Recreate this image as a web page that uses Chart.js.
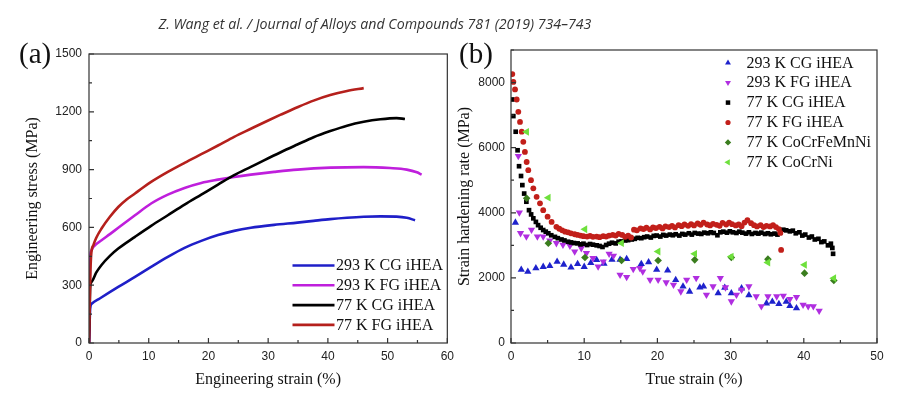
<!DOCTYPE html>
<html><head><meta charset="utf-8">
<script src="https://cdn.jsdelivr.net/npm/chart.js@4.4.1/dist/chart.umd.min.js"></script>
<style>
html,body{margin:0;padding:0;background:#fff;}
#wrap{position:relative;width:900px;height:404px;overflow:hidden;background:#fff;}
canvas{position:absolute;top:0;}
#cA{left:0;} #cB{left:455px;}
.hdr{position:absolute;left:0;width:750px;text-align:center;top:14px;font-style:italic;font-size:14.2px;font-family:"Open Sans",sans-serif;color:#333;white-space:nowrap;}
.pl{position:absolute;font-family:"Liberation Serif",serif;font-size:29px;line-height:29px;color:#111;}
</style></head><body>
<div id="wrap">
<canvas id="cA" width="460" height="404"></canvas>
<canvas id="cB" width="445" height="404"></canvas>
<div class="hdr">Z. Wang et al. / Journal of Alloys and Compounds 781 (2019) 734–743</div>
<div class="pl" style="left:19px;top:39px">(a)</div>
<div class="pl" style="left:459px;top:39px">(b)</div>
</div>
<script>
// ---------- Panel (a): engineering stress-strain ----------
const labelsA = ['293 K CG iHEA','293 K FG iHEA','77 K CG iHEA','77 K FG iHEA'];
const strainA_293CG = [0,0.1,0.2,0.5,1.8,4.9,7.7,10.4,13.2,16,18.8,21.6,24.3,27.1,31,34.9,37.6,40.4,43.2,46,48.8,51.5,53.2,54.6];
const stressA_293CG = [0,100,180,205,231,291,343,395,447,494,530,560,582,598,613,625,634,643,650,655,657,656,650,637];
const strainA_293FG = [0,0.1,0.17,0.4,0.72,2.1,3.5,4.9,7.7,10.4,13.2,16,18.8,21.6,24.3,27.1,31,34.9,40.4,46,50.4,53.2,54.9,55.7];
const stressA_293FG = [0,200,438,480,499,533,565,598,663,724,770,805,831,848,862,874,888,900,910,913,908,900,886,874];
const strainA_77CG = [0,0.08,0.2,0.5,1.2,2.1,3.5,4.9,7.7,10.4,13.2,16,18.8,21.6,24.3,27.1,29.3,32.1,34.9,37.6,40.4,43.2,46,48.8,51.5,52.9];
const stressA_77CG = [0,120,290,320,365,405,452,490,551,608,663,718,770,822,871,914,948,990,1030,1068,1100,1128,1148,1161,1167,1163];
const strainA_77FG = [0,0.12,0.25,0.4,0.72,1.2,2.1,3.5,4.9,6.3,7.7,9,10.4,13.2,16,18.8,21.6,24.3,27.1,30,32.1,35,37.6,40.4,43.2,46];
const stressA_77FG = [0,200,380,470,507,545,594,655,706,745,776,806,836,888,935,980,1025,1070,1112,1155,1185,1225,1258,1287,1308,1323];
const xTicksA = {min:0,max:60,step:5,labelEvery:10};
const yTicksA = {min:0,max:1500,step:150,labelEvery:300};

// ---------- Panel (b): strain hardening rate ----------
const labelsB = ['293 K CG iHEA','293 K FG iHEA','77 K CG iHEA','77 K FG iHEA','77 K CoCrFeMnNi','77 K CoCrNi'];
const strainB_293CG = [0.6,1.4,2.3,3.4,4.4,5.3,6.3,7.2,8.2,9.1,10.0,10.9,11.7,12.7,13.8,14.9,15.8,17.8,18.8,19.9,21.4,22.5,23.5,24.4,25.8,26.3,28.3,29.2,30.1,31.5,32.5,34.9,35.7,36.6,37.6,38.1,39.0];
const rateB_293CG = [3700,2250,2190,2300,2340,2370,2500,2410,2320,2430,2340,2460,2550,2440,2560,2560,2580,2430,2480,2250,2230,1940,1740,1580,1710,1740,1530,1700,1530,1680,1470,1220,1270,1200,1270,1140,1070];
const strainB_293FG = [1.0,1.14,1.3,2.1,2.8,3.6,4.4,5.3,6.2,7.1,8.05,8.7,9.6,10.3,11.2,11.9,12.6,13.4,14,14.9,15.8,16.7,17.6,18,19,20.1,21.2,22.2,23.2,24,25.3,26.7,27.6,28.6,29.3,30.1,30.8,31.5,32.5,33.5,34.2,35.1,36.3,37.2,38.1,39,39.9,40.6,41.3,42.1];
const rateB_293FG = [5742,4005,3372,3269,3474,3269,3269,3147,3065,3014,2983,2810,2912,2759,2605,2350,2503,2738,2677,2094,2023,2268,2299,2197,1941,1941,1860,1788,1584,1941,1992,1481,1737,1992,1706,1277,1481,1635,1737,1430,1124,1430,1430,1451,1349,1410,1175,1124,1124,991];
const strainB_77CG = [0.18,0.32,0.64,0.9,1.1,1.37,1.55,1.8,2.1,2.46,2.75,3.05,3.4,3.7,4.05,4.4,4.75,5.1,5.5,
 6.0,6.4,6.9,7.3,7.8,8.2,8.6,9.1,9.5,9.9,10.4,10.8,11.2,11.7,12.1,12.5,13.0,13.4,13.8,14.3,14.7,15.1,15.6,16.0,16.5,16.9,17.3,17.8,18.2,18.6,19.1,19.5,19.9,20.4,20.8,21.2,21.7,22.1,22.5,23.0,23.4,23.8,24.3,24.7,25.1,25.6,26.0,26.4,26.9,27.3,27.7,28.2,28.6,29.0,29.5,29.9,30.3,30.8,31.2,31.6,32.1,32.5,32.9,33.4,33.8,34.2,34.7,35.1,35.5,36.0,36.4,36.8,37.2,37.6,38.1,38.5,38.9,39.4,39.8,40.2,40.7,41.1,41.5,42.0,42.4,42.8,43.3,43.7,43.9,44.0];
const rateB_77CG = [7480,6970,6490,5920,5430,5130,4850,4590,4340,4080,3950,3830,3720,3620,3540,3470,3420,3370,3310,
 3260,3220,3180,3150,3110,3090,3070,3060,3030,3050,3010,3040,3020,3000,2980,2950,3010,3050,3080,3060,3110,3120,3150,3160,3180,3200,3230,3220,3250,3270,3240,3290,3300,3270,3320,3300,3330,3310,3340,3300,3350,3330,3370,3330,3380,3360,3350,3390,3370,3400,3380,3310,3400,3420,3390,3430,3400,3380,3420,3390,3360,3400,3350,3380,3360,3390,3350,3370,3340,3360,3330,3400,3480,3460,3430,3450,3370,3400,3300,3330,3240,3270,3180,3200,3100,3120,3000,3050,2920,2740];
const strainB_77FG = [0.18,0.32,0.55,0.78,1.0,1.23,1.46,1.68,1.9,2.14,2.36,2.73,3.05,3.5,3.96,4.4,5.0,5.55,
 6.2,6.6,7.0,7.4,7.8,8.2,8.7,9.1,9.5,9.9,10.4,10.8,11.2,11.7,12.1,12.6,13.0,13.4,13.9,14.3,14.7,15.2,15.6,16.0,16.4,16.8,17.2,17.7,18.1,18.5,19.0,19.4,19.8,20.3,20.7,21.1,21.6,22.0,22.4,22.9,23.3,23.7,24.2,24.6,25.0,25.5,25.9,26.3,26.8,27.2,27.6,28.1,28.5,28.9,29.4,29.8,30.2,30.7,31.1,31.5,31.9,32.3,32.8,33.2,33.6,34.1,34.5,34.9,35.4,35.8,36.2,36.6,36.8,36.9];
const rateB_77FG = [8260,8020,7790,7480,7100,6790,6490,6180,5870,5560,5310,5000,4750,4490,4290,4080,3880,3720,
 3570,3510,3460,3420,3400,3370,3340,3320,3300,3280,3270,3290,3260,3270,3250,3280,3270,3300,3320,3300,3350,3320,3260,3300,3240,3480,3460,3520,3500,3540,3490,3550,3530,3570,3520,3580,3560,3600,3550,3620,3590,3640,3600,3650,3610,3670,3630,3700,3640,3610,3660,3630,3600,3690,3640,3700,3650,3610,3640,3590,3700,3770,3680,3620,3580,3620,3560,3600,3580,3620,3560,3500,3380,2860];
const strainB_CoCrFeMnNi = [2.14,5.1,10.1,15.1,20.1,25.1,30.1,35.1,40.1,44.1];
const rateB_CoCrFeMnNi = [4444,3065,2626,2534,2534,2554,2626,2575,2146,1921];
const strainB_CoCrNi = [2.14,5.1,10.1,15.1,20.1,25.1,30.1,35.1,40.1,44.1];
const rateB_CoCrNi = [6488,4465,3494,3065,2810,2738,2656,2473,2401,1992];
const xTicksB = {min:0,max:50,step:5,labelEvery:10};
const yTicksB = {min:0,max:9000,step:1000,labelEvery:2000};

// ---------- helpers ----------
const zip = (xs, ys) => xs.map((x, i) => ({x: x, y: ys[i]}));
const SANS = '"Liberation Sans", Arial, sans-serif';
const SERIF = '"Liberation Serif", "Times New Roman", serif';

function axisX(t, title) {
  return {
    type: 'linear', min: t.min, max: t.max,
    ticks: {stepSize: t.step, autoSkip: false, maxRotation: 0, padding: 6, color: '#222',
      font: {family: SANS, size: 12},
      callback: v => (Math.abs(v % t.labelEvery) < 1e-9 ? String(v) : '')},
    grid: {display: false, drawTicks: false}, border: {display: false},
    title: {display: true, text: title, color: '#111', font: {family: SERIF, size: 16},
      padding: {top: 0, bottom: 14.4}},
    afterFit: s => { s.height = 61; }
  };
}
function axisY(t, title, width, pad, titlePad) {
  return {
    type: 'linear', min: t.min, max: t.max,
    ticks: {stepSize: t.step, autoSkip: false, padding: pad, color: '#222',
      font: {family: SANS, size: 12},
      callback: v => (Math.abs(v % t.labelEvery) < 1e-9 ? String(v) : '')},
    grid: {display: false, drawTicks: false}, border: {display: false},
    title: {display: true, text: title, color: '#111', font: {family: SERIF, size: 16},
      padding: {top: titlePad, bottom: 0}},
    afterFit: s => { s.width = width; }
  };
}

const framePlugin = {
  id: 'frame',
  afterDraw(chart) {
    const {ctx, chartArea: a, scales} = chart;
    ctx.save();
    ctx.strokeStyle = '#333'; ctx.lineWidth = 1.2;
    ctx.strokeRect(a.left, a.top, a.right - a.left, a.bottom - a.top);
    ctx.beginPath();
    scales.x.ticks.forEach(t => {
      const p = scales.x.getPixelForValue(t.value); const L = t.label !== '' ? 5 : 3;
      ctx.moveTo(p, a.bottom); ctx.lineTo(p, a.bottom - L);
    });
    scales.y.ticks.forEach(t => {
      const p = scales.y.getPixelForValue(t.value); const L = t.label !== '' ? 5 : 3;
      ctx.moveTo(a.left, p); ctx.lineTo(a.left + L, p);
    });
    ctx.stroke();
    ctx.restore();
  }
};

function marker(ctx, style, rot, r, x, y, color) {
  ctx.save(); ctx.translate(x, y); ctx.rotate(rot * Math.PI / 180);
  ctx.fillStyle = color; ctx.beginPath();
  if (style === 'circle') ctx.arc(0, 0, r, 0, 2 * Math.PI);
  else if (style === 'rect') { const s = r * 0.75; ctx.rect(-s, -s, 2 * s, 2 * s); }
  else if (style === 'rectRot') { ctx.moveTo(-r, 0); ctx.lineTo(0, -r); ctx.lineTo(r, 0); ctx.lineTo(0, r); ctx.closePath(); }
  else { ctx.moveTo(0, -r); ctx.lineTo(r * 0.866, r * 0.5); ctx.lineTo(-r * 0.866, r * 0.5); ctx.closePath(); }
  ctx.fill(); ctx.restore();
}

function makeLegend(cfg) {
  return {
    id: 'customLegend',
    afterDraw(chart) {
      const ctx = chart.ctx;
      ctx.save();
      ctx.font = cfg.font; ctx.textBaseline = 'middle'; ctx.textAlign = 'left';
      chart.data.datasets.forEach((ds, i) => {
        const y = cfg.y0 + i * cfg.dy;
        if (cfg.kind === 'line') {
          ctx.strokeStyle = ds.borderColor; ctx.lineWidth = ds.borderWidth;
          ctx.beginPath(); ctx.moveTo(cfg.sx0, y); ctx.lineTo(cfg.sx1, y); ctx.stroke();
        } else {
          marker(ctx, ds.pointStyle, ds.rotation || 0, cfg.mr[i], cfg.mx, y, ds.backgroundColor);
        }
        ctx.fillStyle = '#111';
        ctx.fillText(ds.label, cfg.tx, y + 0.5);
      });
      ctx.restore();
    }
  };
}

Chart.defaults.font.family = SANS;

// ---------- Chart (a) ----------
const colorsA = ['#1f1fc8', '#bf1fdc', '#000000', '#b5201c'];
const seriesA = [[strainA_293CG, stressA_293CG], [strainA_293FG, stressA_293FG], [strainA_77CG, stressA_77CG], [strainA_77FG, stressA_77FG]];
new Chart(document.getElementById('cA'), {
  type: 'line',
  data: {
    datasets: seriesA.map((s, i) => ({
      label: labelsA[i], data: zip(s[0], s[1]), borderColor: colorsA[i], backgroundColor: colorsA[i],
      borderWidth: 2.6, pointRadius: 0, fill: false, cubicInterpolationMode: 'monotone', order: 4 - i
    }))
  },
  options: {
    responsive: false, animation: false, events: [],
    layout: {padding: {top: 54, left: 0, right: 11, bottom: 0}},
    plugins: {legend: {display: false}, tooltip: {enabled: false}},
    scales: {
      x: axisX(xTicksA, 'Engineering strain (%)'),
      y: axisY(yTicksA, 'Engineering stress (MPa)', 89, 7, 23.4)
    }
  },
  plugins: [framePlugin, makeLegend({kind: 'line', font: '16px ' + SERIF, y0: 265.5, dy: 19.8, sx0: 292.5, sx1: 334.5, tx: 336})]
});

// ---------- Chart (b) ----------
const colorsB = ['#1e22cc', '#b02ee0', '#000000', '#c21f1a', '#3a7d1e', '#6ee03c'];
const stylesB = ['triangle', 'triangle', 'rect', 'circle', 'rectRot', 'triangle'];
const rotB = [0, 180, 0, 0, 0, -90];
const radB = [4.2, 4.2, 3.3, 2.9, 3.8, 4.5];
const seriesB = [[strainB_293CG, rateB_293CG], [strainB_293FG, rateB_293FG], [strainB_77CG, rateB_77CG],
  [strainB_77FG, rateB_77FG], [strainB_CoCrFeMnNi, rateB_CoCrFeMnNi], [strainB_CoCrNi, rateB_CoCrNi]];
new Chart(document.getElementById('cB'), {
  type: 'scatter',
  data: {
    datasets: seriesB.map((s, i) => ({
      label: labelsB[i], data: zip(s[0], s[1]), backgroundColor: colorsB[i], borderColor: colorsB[i],
      borderWidth: 0, pointStyle: stylesB[i], rotation: rotB[i], pointRadius: radB[i], order: 6 - i
    }))
  },
  options: {
    responsive: false, animation: false, events: [],
    layout: {padding: {top: 50, left: 0, right: 23, bottom: 0}},
    plugins: {legend: {display: false}, tooltip: {enabled: false}},
    scales: {
      x: axisX(xTicksB, 'True strain (%)'),
      y: axisY(yTicksB, 'Strain hardening rate (MPa)', 56, 6, 0.4)
    }
  },
  plugins: [framePlugin, makeLegend({kind: 'point', font: '16px ' + SERIF, y0: 62.8, dy: 19.9, mx: 273, tx: 291.5, mr: [3.4, 3.4, 3, 2.6, 3.2, 3.6]})]
});
</script>
</body></html>
